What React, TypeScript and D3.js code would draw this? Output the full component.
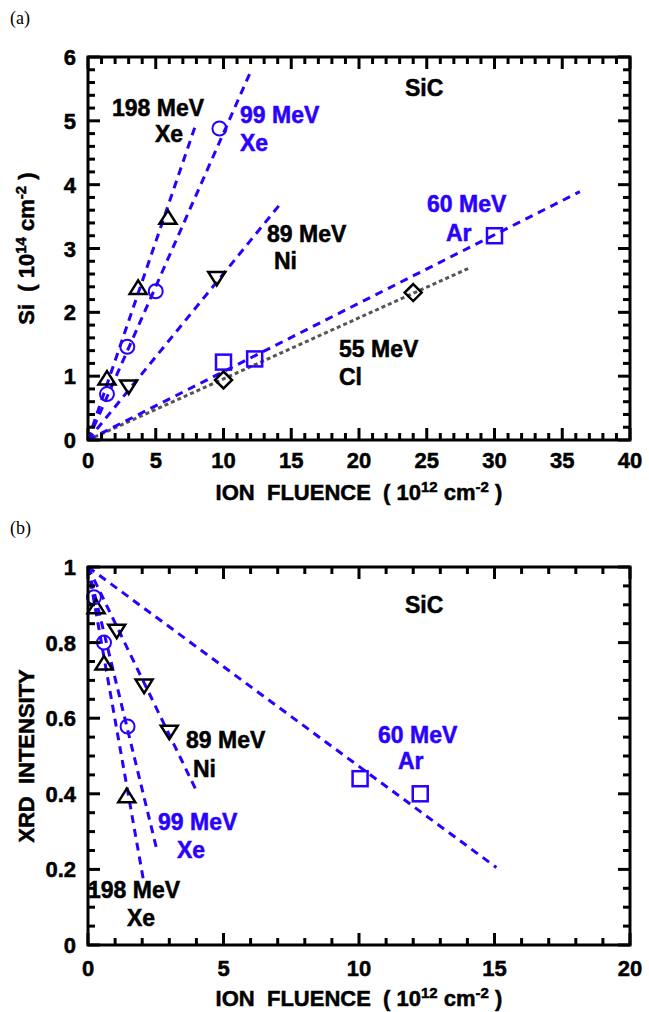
import * as d3 from "d3";

const FONT = "'Liberation Sans', Arial, Helvetica, sans-serif";
const BLUE = "#2a00ff";
const GREY = "#555555";

// panel (a): Si yield vs fluence
const aXe198 = [[1.4, 0.97], [3.7, 2.39], [5.9, 3.49]];
const aXe99 = [[1.4, 0.72], [2.9, 1.46], [5.0, 2.33], [9.7, 4.88]];
const aNi89 = [[3.0, 0.83], [9.5, 2.53]];
const aAr60 = [[10, 1.22], [12.3, 1.27], [30, 3.2]];
const aCl55 = [[10, 0.94], [24, 2.31]];
const aFitXe198 = [[0, 0], [8, 4.97]];
const aFitXe99 = [[0, 0], [12.0, 5.77]];
const aFitNi89 = [[0, 0], [14.2, 3.7]];
const aFitAr60 = [[0, 0], [36.3, 3.89]];
const aFitCl55 = [[0, 0], [28.1, 2.69]];

// panel (b): XRD intensity vs fluence
const bXe198 = [[0.3, 0.895], [0.59, 0.746], [1.43, 0.395]];
const bXe99 = [[0.22, 0.92], [0.59, 0.8], [1.46, 0.578]];
const bNi89 = [[1.06, 0.83], [2.07, 0.685], [3.0, 0.563]];
const bAr60 = [[10.04, 0.44], [12.26, 0.4]];
const bFitXe198 = [[0, 1], [2.05, 0.17]];
const bFitXe99 = [[0, 1], [2.52, 0.258]];
const bFitNi89 = [[0, 1], [4.0, 0.408]];
const bFitAr60 = [[0, 1], [15.07, 0.205]];

type Pt = number[];

function Marker({ kind, x, y }: { kind: string; x: number; y: number }) {
  if (kind === "circle")
    return <circle cx={x} cy={y} r={7} fill="none" stroke={BLUE} strokeWidth={2} />;
  if (kind === "square")
    return <rect x={x - 7.5} y={y - 7.5} width={15} height={15} fill="none" stroke={BLUE} strokeWidth={2.5} />;
  if (kind === "up")
    return <path d={`M${x - 8.5},${y + 6.5}L${x + 8.5},${y + 6.5}L${x},${y - 7}Z`} fill="none" stroke="#000" strokeWidth={2.5} />;
  if (kind === "down")
    return <path d={`M${x - 8.5},${y - 6.5}L${x + 8.5},${y - 6.5}L${x},${y + 7}Z`} fill="none" stroke="#000" strokeWidth={2.5} />;
  return <path d={`M${x},${y - 8.5}L${x + 8.5},${y}L${x},${y + 8.5}L${x - 8.5},${y}Z`} fill="none" stroke="#000" strokeWidth={2.5} />;
}

function Panel(props: any) {
  const { top, bottom, xMax, yMax, xMinor, yMinor, xMajor, yMajor, fmt, series, fits, labels, letter, yTitle, xTitleY, xTickY } = props;
  const left = 88, right = 630;
  const x = d3.scaleLinear().domain([0, xMax]).range([left, right]);
  const y = d3.scaleLinear().domain([0, yMax]).range([bottom, top]);
  const line = d3.line<Pt>().x(d => x(d[0])).y(d => y(d[1]));
  const eps = 1e-6;
  const xt = d3.range(0, xMax + eps, xMinor);
  const yt = d3.range(0, yMax + eps, yMinor);
  const isMaj = (v: number, m: number) => Math.abs(v / m - Math.round(v / m)) < 1e-6;
  return (
    <g>
      <text x={10} y={top - 33} fontFamily="'Liberation Serif', 'Times New Roman', serif" fontSize={18}>{letter}</text>
      {fits.map((f: any, i: number) => (
        <path key={i} d={line(f.pts) || ""} fill="none" stroke={f.color} strokeWidth={3}
          strokeDasharray={f.dotted ? "4 3" : "8 6"} />
      ))}
      {series.map((s: any, i: number) =>
        s.pts.map((p: Pt, j: number) => <Marker key={`${i}-${j}`} kind={s.kind} x={x(p[0])} y={y(p[1])} />)
      )}
      {xt.map((v, i) => {
        const L = isMaj(v, xMajor) ? 12 : 7;
        return (
          <g key={`xt${i}`} stroke="#000" strokeWidth={3}>
            <line x1={x(v)} x2={x(v)} y1={bottom} y2={bottom - L} />
            <line x1={x(v)} x2={x(v)} y1={top} y2={top + L} />
          </g>
        );
      })}
      {yt.map((v, i) => {
        const L = isMaj(v, yMajor) ? 12 : 7;
        return (
          <g key={`yt${i}`} stroke="#000" strokeWidth={3}>
            <line x1={left} x2={left + L} y1={y(v)} y2={y(v)} />
            <line x1={right} x2={right - L} y1={y(v)} y2={y(v)} />
          </g>
        );
      })}
      <rect x={left} y={top} width={right - left} height={bottom - top} fill="none" stroke="#000" strokeWidth={3} />
      <g fontFamily={FONT} fontWeight="bold" fontSize={22} fill="#000" stroke="#000" strokeWidth={0.5}>
        {xt.filter(v => isMaj(v, xMajor)).map((v, i) => (
          <text key={`xl${i}`} x={x(v)} y={xTickY} textAnchor="middle">{d3.format("d")(v)}</text>
        ))}
        {yt.filter(v => isMaj(v, yMajor)).map((v, i) => (
          <text key={`yl${i}`} x={76} y={y(v) + 8} textAnchor="end">{fmt(v)}</text>
        ))}
        <text x={(left + right) / 2} y={xTitleY} textAnchor="middle" style={{ whiteSpace: "pre" }}>
          {"ION  FLUENCE  ( 10"}
          <tspan dy={-8} fontSize={15}>12</tspan>
          <tspan dy={8}>{" cm"}</tspan>
          <tspan dy={-8} fontSize={15}>-2</tspan>
          <tspan dy={8}>{" )"}</tspan>
        </text>
        <text transform={`translate(34,${(top + bottom) / 2}) rotate(-90)`} textAnchor="middle" style={{ whiteSpace: "pre" }}>
          {yTitle}
        </text>
      </g>
      <g fontFamily={FONT} fontWeight="bold" fontSize={23} strokeWidth={0.5}>
        {labels.map((l: any, i: number) => (
          <text key={`lb${i}`} x={l.x} y={l.y} fill={l.color} stroke={l.color}>{l.t}</text>
        ))}
      </g>
    </g>
  );
}

export default function App() {
  const aSeries = [
    { kind: "up", pts: aXe198 },
    { kind: "circle", pts: aXe99 },
    { kind: "down", pts: aNi89 },
    { kind: "square", pts: aAr60 },
    { kind: "diamond", pts: aCl55 },
  ];
  const aFits = [
    { pts: aFitCl55, color: GREY, dotted: true },
    { pts: aFitXe198, color: BLUE },
    { pts: aFitXe99, color: BLUE },
    { pts: aFitNi89, color: BLUE },
    { pts: aFitAr60, color: BLUE },
  ];
  const aLabels = [
    { t: "198 MeV", x: 112, y: 116, color: "#000" },
    { t: "Xe", x: 155, y: 142, color: "#000" },
    { t: "99 MeV", x: 240, y: 123, color: BLUE },
    { t: "Xe", x: 240, y: 151, color: BLUE },
    { t: "SiC", x: 405, y: 96, color: "#000" },
    { t: "89 MeV", x: 267, y: 242, color: "#000" },
    { t: "Ni", x: 274, y: 269, color: "#000" },
    { t: "60 MeV", x: 427, y: 212, color: BLUE },
    { t: "Ar", x: 446, y: 241, color: BLUE },
    { t: "55 MeV", x: 339, y: 357, color: "#000" },
    { t: "Cl", x: 339, y: 385, color: "#000" },
  ];
  const bSeries = [
    { kind: "up", pts: bXe198 },
    { kind: "circle", pts: bXe99 },
    { kind: "down", pts: bNi89 },
    { kind: "square", pts: bAr60 },
  ];
  const bFits = [
    { pts: bFitXe198, color: BLUE },
    { pts: bFitXe99, color: BLUE },
    { pts: bFitNi89, color: BLUE },
    { pts: bFitAr60, color: BLUE },
  ];
  const bLabels = [
    { t: "SiC", x: 405, y: 613, color: "#000" },
    { t: "89 MeV", x: 186, y: 748, color: "#000" },
    { t: "Ni", x: 193, y: 777, color: "#000" },
    { t: "60 MeV", x: 378, y: 743, color: BLUE },
    { t: "Ar", x: 398, y: 769, color: BLUE },
    { t: "99 MeV", x: 158, y: 830, color: BLUE },
    { t: "Xe", x: 177, y: 858, color: BLUE },
    { t: "198 MeV", x: 88, y: 898, color: "#000" },
    { t: "Xe", x: 127, y: 926, color: "#000" },
  ];
  const siTitle = (
    <>
      {"Si  ( 10"}
      <tspan dy={-8} fontSize={15}>14</tspan>
      <tspan dy={8}>{" cm"}</tspan>
      <tspan dy={-8} fontSize={15}>-2</tspan>
      <tspan dy={8}>{" )"}</tspan>
    </>
  );
  return (
    <svg width={649} height={1012} style={{ position: "absolute", left: 0, top: 0, background: "#fff" }}>
      <Panel top={57} bottom={440} xMax={40} yMax={6} xMinor={1} xMajor={5} yMinor={0.2} yMajor={1}
        fmt={d3.format("d")} series={aSeries} fits={aFits} labels={aLabels} letter="(a)"
        yTitle={siTitle} xTickY={468} xTitleY={500} />
      <Panel top={567} bottom={945} xMax={20} yMax={1} xMinor={1} xMajor={5} yMinor={0.05} yMajor={0.2}
        fmt={(v: number) => (v === 0 || v === 1 ? d3.format("d")(v) : d3.format(".1f")(v))}
        series={bSeries} fits={bFits} labels={bLabels} letter="(b)"
        yTitle={"XRD  INTENSITY"} xTickY={976} xTitleY={1006} />
    </svg>
  );
}
